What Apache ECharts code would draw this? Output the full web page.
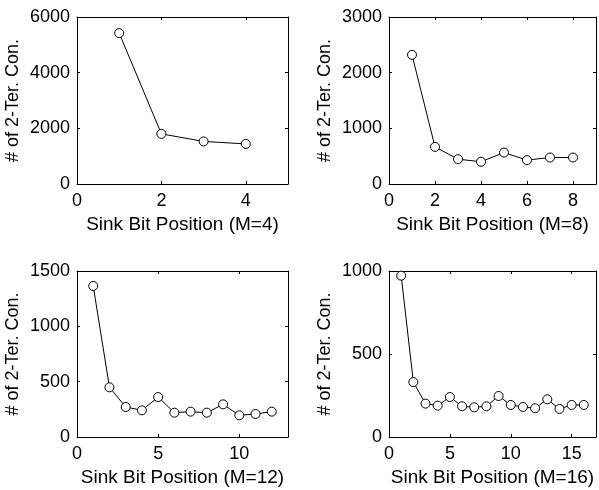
<!DOCTYPE html>
<html>
<head>
<meta charset="utf-8">
<script src="https://cdn.jsdelivr.net/npm/echarts@6/dist/echarts.min.js"></script>
<style>
  html, body { margin: 0; padding: 0; background: #fff; }
  #main { width: 599px; height: 490px; }
</style>
</head>
<body>
<div id="main"></div>
<script>
// values
const m4Values = [5420, 1800, 1530, 1440];
const m8Values = [2320, 667, 446, 400, 565, 429, 476, 476];
const m12Values = [1365, 449, 271, 241, 361, 220, 229, 220, 295, 196, 208, 229];
const m16Values = [972, 331, 201, 189, 241, 185, 179, 185, 247, 193, 181, 173, 227, 169, 193, 193];

const xNames = ['Sink Bit Position (M=4)', 'Sink Bit Position (M=8)', 'Sink Bit Position (M=12)', 'Sink Bit Position (M=16)'];
const yName = '# of 2-Ter. Con.';
const xMax = [5, 9, 13, 17];
const xStep = [2, 2, 5, 5];
const yMax = [6000, 3000, 1500, 1000];
const yStep = [2000, 1000, 500, 500];

const panels = [m4Values, m8Values, m12Values, m16Values];

var chart = echarts.init(document.getElementById('main'), null, { renderer: 'canvas' });

var font = 'Liberation Sans, Arial, Helvetica, sans-serif';
var lineStyle = { color: '#000', width: 1 };

var grids = [], xAxes = [], yAxes = [], series = [];
var lefts = [77, 389], widths = [211, 209], tops = [17, 271];

panels.forEach(function (vals, i) {
  var col = i % 2, row = Math.floor(i / 2);
  grids.push({ left: lefts[col], top: tops[row], width: widths[col], height: row === 0 ? 167 : 166 });

  var step = xStep[i];
  // bottom x axis
  xAxes.push({
    type: 'value', gridIndex: i, position: 'bottom', min: 0, max: xMax[i], interval: step,
    name: xNames[i], nameLocation: 'middle', nameGap: 31,
    nameTextStyle: { color: '#000', fontSize: 19, fontFamily: font },
    axisLine: { onZero: false, lineStyle: lineStyle },
    axisTick: { inside: true, length: 3, lineStyle: lineStyle },
    axisLabel: {
      color: '#000', fontSize: 18, fontFamily: font, margin: 8,
      formatter: function (v) { return v % step === 0 ? String(v) : ''; }
    },
    splitLine: { show: false }
  });
  // top mirror axis
  xAxes.push({
    type: 'value', gridIndex: i, position: 'top', min: 0, max: xMax[i], interval: step,
    axisLine: { onZero: false, lineStyle: lineStyle },
    axisTick: { inside: true, length: 3, lineStyle: lineStyle },
    axisLabel: { show: false },
    splitLine: { show: false }
  });
  // left y axis
  yAxes.push({
    type: 'value', gridIndex: i, position: 'left', min: 0, max: yMax[i], interval: yStep[i],
    name: yName, nameLocation: 'middle', nameGap: 55,
    nameTextStyle: { color: '#000', fontSize: 18, fontFamily: font },
    axisLine: { show: true, onZero: false, lineStyle: lineStyle },
    axisTick: { show: true, inside: true, length: 3, lineStyle: lineStyle },
    axisLabel: {
      color: '#000', fontSize: 18, fontFamily: font, margin: 7,
      formatter: function (v) { return String(v); }
    },
    splitLine: { show: false }
  });
  // right mirror axis
  yAxes.push({
    type: 'value', gridIndex: i, position: 'right', min: 0, max: yMax[i], interval: yStep[i],
    axisLine: { show: true, onZero: false, lineStyle: lineStyle },
    axisTick: { show: true, inside: true, length: 3, lineStyle: lineStyle },
    axisLabel: { show: false },
    splitLine: { show: false }
  });

  series.push({
    type: 'line',
    xAxisIndex: i * 2,
    yAxisIndex: i * 2,
    data: vals.map(function (v, k) { return [k + 1, v]; }),
    symbol: 'circle',
    symbolSize: 9,
    showAllSymbol: true,
    lineStyle: { color: '#000', width: 1 },
    itemStyle: { color: '#fff', borderColor: '#000', borderWidth: 1 },
    animation: false
  });
});

var option = {
  backgroundColor: '#ffffff',
  animation: false,
  grid: grids,
  xAxis: xAxes,
  yAxis: yAxes,
  series: series
};

chart.setOption(option);
</script>
</body>
</html>
